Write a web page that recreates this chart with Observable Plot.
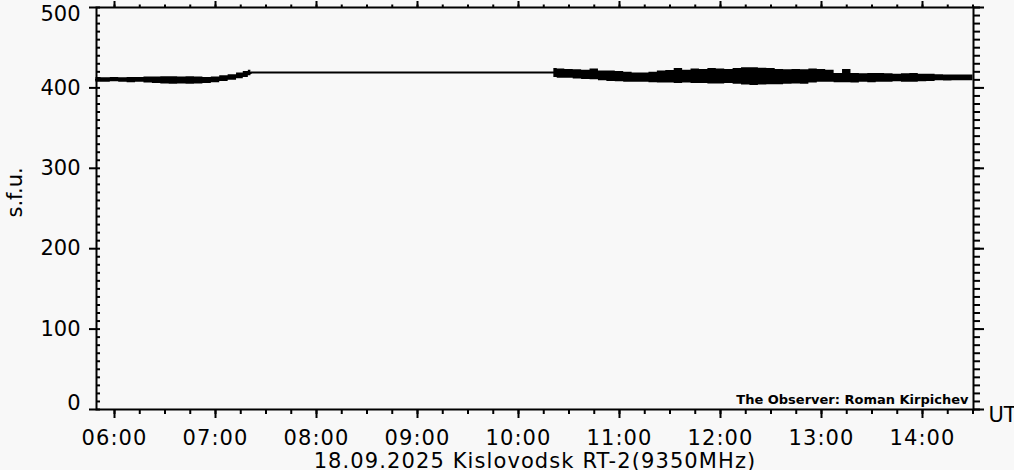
<!DOCTYPE html>
<html><head><meta charset="utf-8">
<script src="https://cdn.jsdelivr.net/npm/d3@7"></script>
<script src="https://cdn.jsdelivr.net/npm/@observablehq/plot@0.6"></script>
<style>
html,body{margin:0;padding:0;background:#f8f8f8;}
#chart{width:1014px;height:470px;overflow:hidden;}
</style></head><body><div id="chart"></div>
<script>
const title = "18.09.2025 Kislovodsk RT-2(9350MHz)";
const yLabel = "s.f.u.";
const xUnit = "UT";
const observer = "The Observer: Roman Kirpichev";
const yTickValues = [0, 100, 200, 300, 400, 500];
const xDomain = ["05:49:18", "14:30:18"];

// morning segment (envelope of the noisy record)
const morningTime = ["05:49","05:55","06:00","06:05","06:10","06:15","06:20","06:25","06:30","06:35","06:40","06:45","06:50","06:55","07:00","07:05","07:10","07:15","07:18","07:21"];
const morningLo   = [407,407,407.5,407,406.5,407,406,405.5,405,404.5,405,404.5,405,405.5,406.5,408,409.5,411.5,413,415];
const morningHi   = [413,412.5,413,412.5,413,413,413.5,413.5,414,414,413.5,414,413.5,413,413.5,415,416.5,418.5,420.5,422];

// gap (straight line)
const gapTime  = ["07:21", "10:21"];
const gapValue = [419, 419];

// day segment (envelope of the noisy record)
const dayTime = ["10:21","10:25","10:30","10:35","10:40","10:45","10:50","10:55","11:00","11:05","11:10","11:15","11:20","11:25","11:30","11:35","11:40","11:45","11:50","11:55","12:00","12:05","12:10","12:15","12:20","12:25","12:30","12:35","12:40","12:45","12:50","12:55","13:00","13:05","13:10","13:15","13:20","13:25","13:30","13:35","13:40","13:45","13:50","13:55","14:00","14:05","14:10","14:15","14:20","14:25","14:30"];
const dayLo = [413,412,412,411,410.5,410,409,408,407.5,407,407,407,406.5,406,406,405.5,406,405.5,405.5,405,405,405.5,404.5,403.5,403,403.5,404,404,404.5,405,404.5,406,407,407,406.5,406.5,406,407,406.5,407,407,407.5,407,407,407.5,408,409,408.5,409,409,409];
const dayHi = [424,423.5,423,422.5,422,423.5,421,421,420.5,419.5,418.5,418.5,419.5,421,421.5,424,422,423.5,423,424,423.5,423,424,425,425,424.5,424,423,422.5,423,422.5,423.5,423,422,418,423,418,417.5,418,418,417.5,417,417.5,418,417,417,416.5,416,416,416,416];

const T = s => { const [h, m, sec = 0] = s.split(":").map(Number); return new Date(Date.UTC(2025, 8, 18, h, m, sec)); };
const band = (ts, lo, hi) => ts.map((s, i) => ({t: T(s), lo: lo[i], hi: hi[i], mid: (lo[i] + hi[i]) / 2}));
const morning = band(morningTime, morningLo, morningHi);
const day = band(dayTime, dayLo, dayHi);
const gap = gapTime.map((s, i) => ({t: T(s), v: gapValue[i]}));

const domain = xDomain.map(T);
const hourTicks = d3.utcHour.every(1).range(domain[0], domain[1]);
const quarterTicks = d3.utcMinute.every(15).range(domain[0], domain[1]);
const tenTicks = d3.range(0, 501, 10);
const blank = () => "";
const FS = 21;

const chart = Plot.plot({
  width: 1014, height: 470,
  marginLeft: 96, marginRight: 41, marginTop: 7, marginBottom: 61,
  style: {background: "#f8f8f8", fontFamily: "DejaVu Sans", fontSize: FS + "px", color: "black", overflow: "visible"},
  x: {type: "utc", domain},
  y: {domain: [0, 500]},
  marks: [
    Plot.areaY(morning, {x: "t", y1: "lo", y2: "hi", fill: "black", curve: "step"}),
    Plot.lineY(morning, {x: "t", y: "mid", stroke: "black", strokeWidth: 2}),
    Plot.lineY(gap, {x: "t", y: "v", stroke: "black", strokeWidth: 2}),
    Plot.areaY(day, {x: "t", y1: "lo", y2: "hi", fill: "black", curve: "step"}),
    Plot.frame({stroke: "black", strokeWidth: 2}),
    Plot.axisX({anchor: "bottom", ticks: hourTicks, tickSize: 9, tickPadding: 12, tickFormat: d3.utcFormat("%H:%M"), fontSize: FS, strokeWidth: 2, label: null}),
    Plot.axisX({anchor: "bottom", ticks: quarterTicks, tickSize: 5, tickFormat: blank, strokeWidth: 2, label: null}),
    Plot.axisX({anchor: "top", ticks: hourTicks, tickSize: 7, tickFormat: blank, strokeWidth: 2, label: null}),
    Plot.axisX({anchor: "top", ticks: quarterTicks, tickSize: 3.5, tickFormat: blank, strokeWidth: 2, label: null}),
    Plot.axisY({anchor: "left", ticks: yTickValues, tickSize: 7, tickFormat: blank, strokeWidth: 2, label: null}),
    Plot.axisY({anchor: "left", ticks: tenTicks, tickSize: -4, tickFormat: blank, strokeWidth: 2, label: null}),
    Plot.axisY({anchor: "left", ticks: yTickValues.slice(1, -1), tickSize: 0, tickPadding: 16, fontSize: FS, label: null}),
    Plot.axisY({anchor: "left", ticks: yTickValues.slice(0, 1), tickSize: 0, tickPadding: 16, fontSize: FS, dy: -6, label: null}),
    Plot.axisY({anchor: "left", ticks: yTickValues.slice(-1), tickSize: 0, tickPadding: 16, fontSize: FS, dy: 7, label: null}),
    Plot.axisY({anchor: "right", ticks: tenTicks, tickSize: 6, tickFormat: blank, strokeWidth: 2, label: null}),
    Plot.axisY({anchor: "right", ticks: yTickValues, tickSize: 10, tickFormat: blank, strokeWidth: 2, label: null}),
    Plot.text([title], {text: d => d, frameAnchor: "bottom", dy: 58, fontSize: FS}),
    Plot.text([xUnit], {text: d => d, frameAnchor: "bottom-right", textAnchor: "start", dx: 15, dy: 12, fontSize: FS}),
    Plot.text([yLabel], {text: d => d, frameAnchor: "left", dx: -81, dy: 9, rotate: -90, fontSize: FS}),
    Plot.text([observer], {text: d => d, frameAnchor: "bottom-right", textAnchor: "end", dx: -5, dy: -6, fontSize: 13, fontWeight: "bold"})
  ]
});
d3.select(chart).selectAll("text")
  .filter(function () { return this.textContent === title || /^\d\d:\d\d$/.test(this.textContent); })
  .style("letter-spacing", "1.1px");
document.getElementById("chart").append(chart);
</script></body></html>
